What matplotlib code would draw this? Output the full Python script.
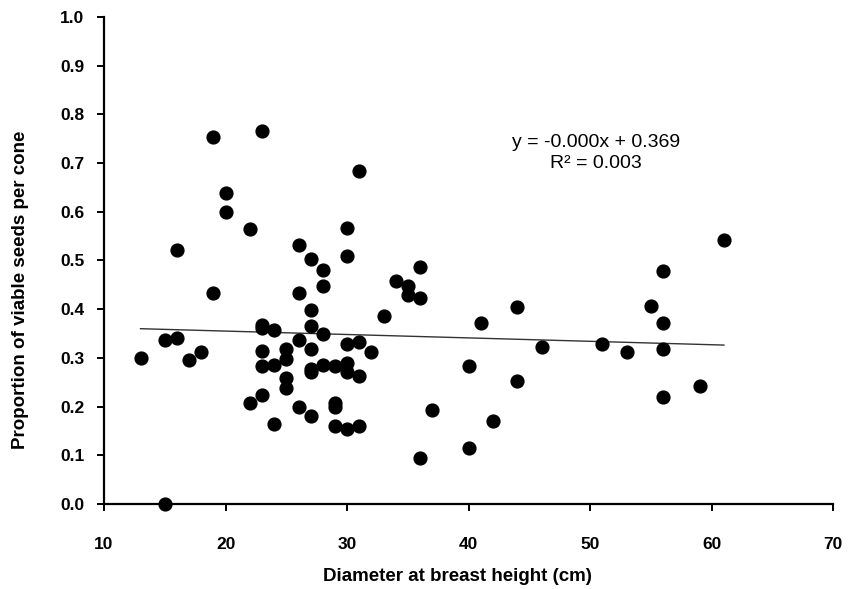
import numpy as np
import matplotlib
matplotlib.use("Agg")
import matplotlib.pyplot as plt

# diameter at breast height (cm) and proportion of viable seeds per cone
dbh = [13, 15, 15, 16, 16, 17, 18, 19, 19, 20, 20, 22, 22,
       23, 23, 23, 23, 23, 23, 24, 24, 24, 25, 25, 25, 25,
       26, 26, 26, 26, 27, 27, 27, 27, 27, 27, 27, 28, 28, 28, 28,
       29, 29, 29, 29, 30, 30, 30, 30, 30, 30, 31, 31, 31, 31,
       32, 33, 34, 35, 35, 36, 36, 36, 37, 40, 40, 41, 42, 44, 44,
       46, 51, 53, 55, 56, 56, 56, 56, 59, 61]
viable = [0.300, 0.000, 0.337, 0.340, 0.521, 0.295, 0.313, 0.754, 0.433, 0.639, 0.600, 0.565, 0.207,
          0.766, 0.368, 0.362, 0.314, 0.284, 0.224, 0.358, 0.286, 0.165, 0.318, 0.297, 0.259, 0.238,
          0.531, 0.433, 0.337, 0.199, 0.504, 0.399, 0.365, 0.318, 0.278, 0.270, 0.181, 0.481, 0.448, 0.348, 0.286,
          0.283, 0.208, 0.199, 0.160, 0.567, 0.509, 0.328, 0.290, 0.272, 0.154, 0.683, 0.333, 0.263, 0.160,
          0.313, 0.385, 0.457, 0.448, 0.429, 0.487, 0.423, 0.095, 0.193, 0.284, 0.116, 0.371, 0.171, 0.405, 0.253,
          0.322, 0.328, 0.312, 0.407, 0.478, 0.371, 0.318, 0.219, 0.242, 0.543]

# linear trend as reported on the chart
slope = -0.0007
intercept = 0.369
eq_text = "y = -0.000x + 0.369"
r2_text = "R\u00b2 = 0.003"

plt.rcParams['font.family'] = ['Liberation Sans', 'DejaVu Sans']

fig = plt.figure(figsize=(8.5, 5.89), dpi=100)
ax = fig.add_axes([0.1224, 0.1443, 0.858, 0.827])

ax.scatter(dbh, viable, s=85, color='black', zorder=3, clip_on=False)

xs = np.array([min(dbh), max(dbh)])
ax.plot(xs, slope * xs + intercept, color='#333333', lw=1.0, zorder=2)

ax.text(50.5, 0.743, eq_text, ha='center', va='center', fontsize=14)
ax.text(50.5, 0.700, r2_text, ha='center', va='center', fontsize=14)

ax.set_xlim(10, 70)
ax.set_ylim(0, 1.0)
ax.set_xticks(range(10, 71, 10))
ax.set_yticks(np.arange(0, 1.01, 0.1))
ax.set_yticklabels(["%.1f" % v for v in np.arange(0, 1.01, 0.1)])

for s in ['top', 'right']:
    ax.spines[s].set_visible(False)
for s in ['left', 'bottom']:
    ax.spines[s].set_linewidth(1.6)
ax.tick_params(direction='out', length=5, width=1.4, labelsize=12.5)
ax.tick_params(axis='x', pad=19)
ax.tick_params(axis='y', pad=9)
for lbl in ax.get_xticklabels() + ax.get_yticklabels():
    lbl.set_fontweight('bold')

ax.set_xlabel("Diameter at breast height (cm)", fontsize=13.5, fontweight='bold')
ax.set_ylabel("Proportion of viable seeds per cone", fontsize=13.5, fontweight='bold')
ax.xaxis.set_label_coords(0.485, -0.131)
ax.yaxis.set_label_coords(-0.103, 0.44)

fig.savefig("out.png", dpi=100)
